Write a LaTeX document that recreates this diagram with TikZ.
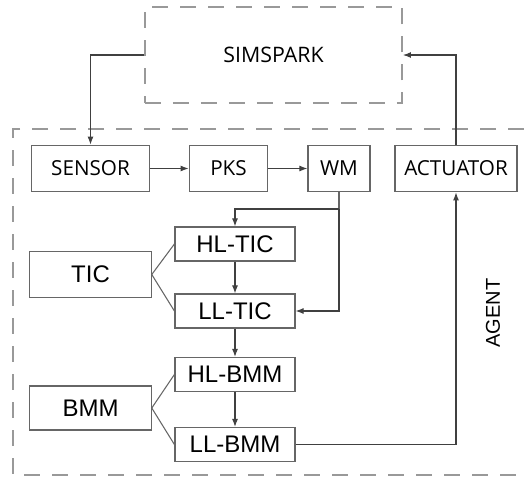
\documentclass[tikz,border=0pt]{standalone}
\usepackage{fontspec}
\setmainfont{Liberation Sans}
\newfontfamily\topfont{Open Sans}
\usetikzlibrary{arrows.meta}
\begin{document}
\begin{tikzpicture}[
  x=0.75pt, y=-0.75pt,
  frame/.style={draw=black!40, line width=1.2pt, dash pattern=on 12pt off 9pt},
  box/.style={draw=black!60, line width=0.9pt, inner sep=0pt, align=center},
  topbox/.style={box, font=\topfont\fontsize{15.5}{18}\selectfont,
                 minimum height=35pt},
  lowbox/.style={box, font=\fontsize{18}{20}\selectfont,
                 minimum width=90pt, minimum height=25.5pt},
  sidebox/.style={box, font=\fontsize{18}{20}\selectfont,
                  minimum width=91pt},
  arrow/.style={-{Latex[length=6pt,width=4.5pt]}, draw=black!75, line width=0.8pt},
  link/.style={draw=black!60, line width=0.8pt}
]
\useasboundingbox (0,0) rectangle (524,479);
% simulator and agent frames
\node[frame, minimum width=193pt, minimum height=72pt,
      font=\topfont\fontsize{16}{18}\selectfont] (sim) at (273.5,55) {SIMSPARK};
\draw[frame] (524,129) -- (13,129) -- (13,475) -- (524,475);
\node[rotate=90, font=\fontsize{15}{18}\selectfont] (agent) at (493,313) {AGENT};
% top row
\node[topbox, minimum width=89pt] (sensor) at (90.5,168.5) {SENSOR};
\node[topbox, minimum width=59pt] (pks) at (228.5,168.5) {PKS};
\node[topbox, minimum width=46.5pt] (wm) at (339,168.5) {WM};
\node[topbox, minimum width=91.5pt] (act) at (456,168.5) {ACTUATOR};
% controllers
\node[lowbox] (hltic) at (235,244) {HL-TIC};
\node[lowbox] (lltic) at (235,311) {LL-TIC};
\node[lowbox] (hlbmm) at (235,374.5) {HL-BMM};
\node[lowbox] (llbmm) at (235,444.5) {LL-BMM};
\node[sidebox, minimum height=34pt] (tic) at (90.5,274.5) {TIC};
\node[sidebox, minimum height=33pt] (bmm) at (90.5,408) {BMM};
\coordinate (split) at (339,209);
% connections
\draw[arrow] (sim.west) -| (sensor.north);
\draw[arrow] (act.north) |- (sim.east);
\draw[arrow] (sensor) -- (pks);
\draw[arrow] (pks) -- (wm);
\draw[link] (wm.south) -- (split);
\draw[arrow] (split) -| (hltic.north);
\draw[arrow] (split) |- (lltic.east);
\draw[arrow] (hltic) -- (lltic);
\draw[arrow] (lltic) -- (hlbmm);
\draw[arrow] (hlbmm) -- (llbmm);
\draw[arrow] (llbmm.east) -| (act.south);
\draw[link] (tic.east) -- (hltic.west);
\draw[link] (tic.east) -- (lltic.west);
\draw[link] (bmm.east) -- (hlbmm.west);
\draw[link] (bmm.east) -- (llbmm.west);
\end{tikzpicture}
\end{document}
